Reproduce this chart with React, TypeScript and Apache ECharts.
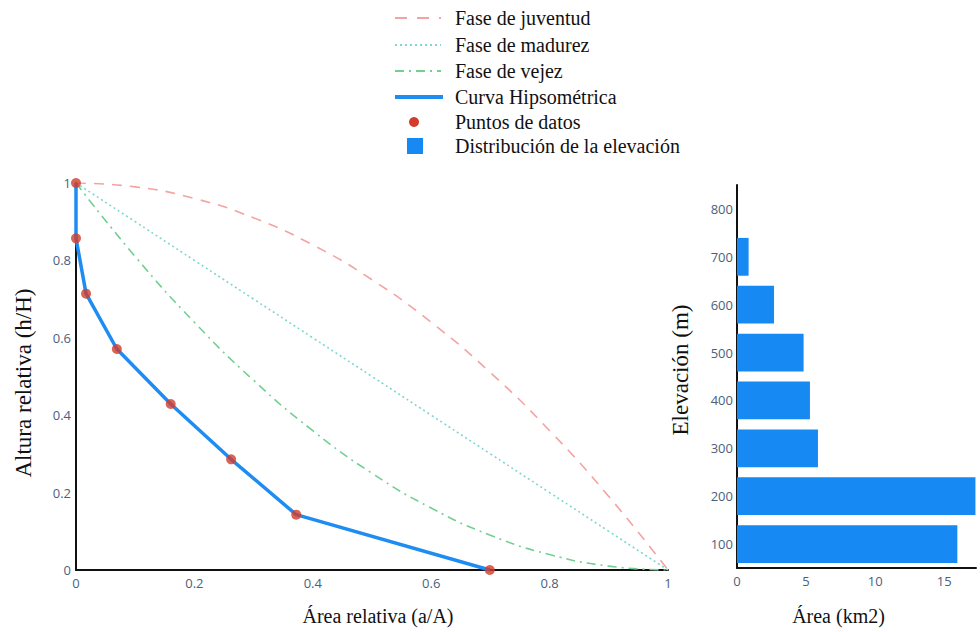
import React, { useEffect, useRef } from "react";
import * as echarts from "echarts";

// Hypsometric curve (relative area vs relative height)
const relArea = [0, 0, 0.017, 0.069, 0.16, 0.262, 0.372, 0.699];
const relHeight = [1, 0.857, 0.714, 0.571, 0.429, 0.286, 0.143, 0];

// Reference phase curves, read at x = 0, 0.1, ..., 1
const refX = [0, 0.1, 0.2, 0.3, 0.4, 0.5, 0.6, 0.7, 0.8, 0.9, 1];
const youthY = [1, 0.99, 0.96, 0.91, 0.84, 0.75, 0.64, 0.51, 0.36, 0.19, 0];
const matureY = [1, 0.9, 0.8, 0.7, 0.6, 0.5, 0.4, 0.3, 0.2, 0.1, 0];
const oldY = [1, 0.81, 0.64, 0.49, 0.36, 0.25, 0.16, 0.09, 0.04, 0.01, 0];

// Elevation distribution
const elevationCats = ["100", "200", "300", "400", "500", "600", "700", "800"];
const elevationArea: (number | null)[] = [15.95, 17.26, 5.86, 5.28, 4.82, 2.68, 0.84, null];

const legendNames = [
  "Fase de juventud",
  "Fase de madurez",
  "Fase de vejez",
  "Curva Hipsométrica",
  "Puntos de datos",
  "Distribución de la elevación",
];

const C_YOUTH = "#f4a3a3";
const C_MATURE = "#7fd6cf";
const C_OLD = "#72cf92";
const C_BLUE = "#1e8cf0";
const C_DOT = "#d23c2c";
const C_BAR = "#1689f2";
const TICK = "#4a5f7e";
const SERIF = '"Liberation Serif", "Times New Roman", serif';
const SANS = '"Open Sans", "Noto Sans", sans-serif';

export default function App() {
  const ref = useRef<HTMLDivElement>(null);
  useEffect(() => {
    if (!ref.current) return;
    const chart = echarts.init(ref.current, undefined, { renderer: "svg" });

    const pair = (xs: number[], ys: number[]) => xs.map((x, i) => [x, ys[i]]);
    const rowY = [18, 45, 71, 97, 122, 146];
    const lx1 = 395, lx2 = 441, tx = 455;

    const legendGraphics: any[] = [];
    legendNames.forEach((name, i) => {
      legendGraphics.push({
        type: "text",
        x: tx,
        y: rowY[i],
        style: { text: name, fontSize: 20, fontFamily: SERIF, fill: "#111", verticalAlign: "middle" },
      });
    });
    legendGraphics.push(
      { type: "line", shape: { x1: lx1, y1: rowY[0], x2: lx2, y2: rowY[0] }, style: { stroke: C_YOUTH, lineWidth: 1.8, lineDash: [12, 10] } },
      { type: "line", shape: { x1: lx1, y1: rowY[1], x2: lx2, y2: rowY[1] }, style: { stroke: C_MATURE, lineWidth: 1.8, lineDash: [2, 3] } },
      { type: "line", shape: { x1: lx1, y1: rowY[2], x2: lx2, y2: rowY[2] }, style: { stroke: C_OLD, lineWidth: 1.8, lineDash: [9, 5, 2, 5] } },
      { type: "line", shape: { x1: lx1, y1: rowY[3], x2: lx2 + 2, y2: rowY[3] }, style: { stroke: C_BLUE, lineWidth: 4 } },
      { type: "circle", shape: { cx: 414, cy: rowY[4], r: 5 }, style: { fill: C_DOT } },
      { type: "rect", shape: { x: 407, y: rowY[5] - 8, width: 16, height: 16 }, style: { fill: C_BAR } }
    );

    const axisLabel = { color: TICK, fontSize: 13, fontFamily: SANS };
    const axisLine = { show: true, lineStyle: { color: "#111", width: 2 } };
    const nameStyle = { color: "#111", fontSize: 20, fontFamily: SERIF };
    const vNameStyle = { color: "#111", fontSize: 23, fontFamily: SERIF };

    chart.setOption({
      animation: false,
      backgroundColor: "#fff",
      grid: [
        { left: 76, right: 312, top: 183, bottom: 62, containLabel: false },
        { left: 737, right: 4, top: 185, bottom: 64, containLabel: false },
      ],
      xAxis: [
        {
          gridIndex: 0, type: "value", min: 0, max: 1, interval: 0.2,
          axisLine, axisTick: { show: false }, splitLine: { show: false },
          axisLabel: { ...axisLabel, margin: 6 },
          name: "Área relativa (a/A)", nameLocation: "middle", nameGap: 36,
          nameTextStyle: { ...nameStyle, padding: [0, 0, 0, 12] },
        },
        {
          gridIndex: 1, type: "value", min: 0, max: 17.3, interval: 5,
          axisLine, axisTick: { show: false }, splitLine: { show: false },
          axisLabel: { ...axisLabel, margin: 6, showMaxLabel: false },
          name: "Área (km2)", nameLocation: "middle", nameGap: 38,
          nameTextStyle: { ...nameStyle, padding: [0, 36, 0, 0] },
        },
      ],
      yAxis: [
        {
          gridIndex: 0, type: "value", min: 0, max: 1, interval: 0.2,
          axisLine, axisTick: { show: false }, splitLine: { show: false },
          axisLabel: { ...axisLabel, margin: 5 },
          name: "Altura relativa (h/H)", nameLocation: "middle", nameGap: 41,
          nameTextStyle: { ...vNameStyle, padding: [0, 13, 0, 0] },
        },
        {
          gridIndex: 1, type: "category", data: elevationCats, boundaryGap: true,
          axisLine, axisTick: { show: false }, splitLine: { show: false },
          axisLabel: { ...axisLabel, margin: 4 },
          name: "Elevación (m)", nameLocation: "middle", nameGap: 45,
          nameTextStyle: { ...vNameStyle, padding: [0, 0, 0, 13] },
        },
      ],
      series: [
        {
          name: legendNames[0], type: "line", xAxisIndex: 0, yAxisIndex: 0,
          data: pair(refX, youthY), smooth: true, showSymbol: false,
          lineStyle: { color: C_YOUTH, width: 1.6, type: [10, 8] },
        },
        {
          name: legendNames[1], type: "line", xAxisIndex: 0, yAxisIndex: 0,
          data: pair(refX, matureY), smooth: true, showSymbol: false,
          lineStyle: { color: C_MATURE, width: 1.6, type: [2, 3] },
        },
        {
          name: legendNames[2], type: "line", xAxisIndex: 0, yAxisIndex: 0,
          data: pair(refX, oldY), smooth: true, showSymbol: false,
          lineStyle: { color: C_OLD, width: 1.6, type: [9, 5, 2, 5] },
        },
        {
          name: legendNames[3], type: "line", xAxisIndex: 0, yAxisIndex: 0,
          data: pair(relArea, relHeight), showSymbol: false,
          lineStyle: { color: C_BLUE, width: 3.5 },
        },
        {
          name: legendNames[4], type: "scatter", xAxisIndex: 0, yAxisIndex: 0,
          data: pair(relArea, relHeight), symbolSize: 10,
          itemStyle: { color: C_DOT }, z: 5,
        },
        {
          name: legendNames[5], type: "bar", xAxisIndex: 1, yAxisIndex: 1,
          data: elevationArea, barWidth: "79%",
          itemStyle: { color: C_BAR },
        },
      ],
      graphic: legendGraphics,
    });

    return () => chart.dispose();
  }, []);

  return (
    <div
      ref={ref}
      style={{ position: "absolute", left: 0, top: 0, width: 980, height: 632, background: "#fff" }}
    />
  );
}
